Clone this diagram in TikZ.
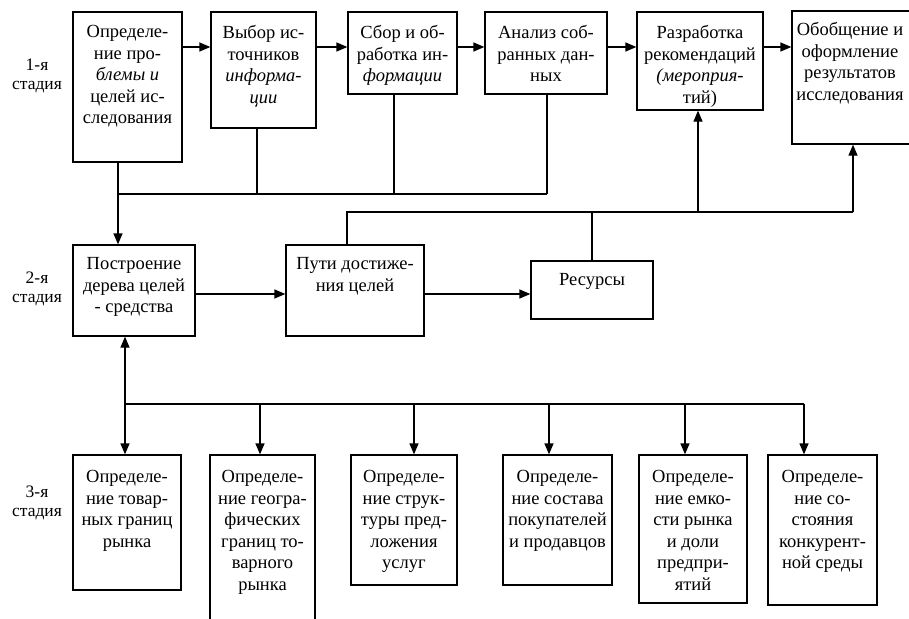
\documentclass[tikz,border=0pt]{standalone}
\usepackage{fontspec}
\setmainfont{Liberation Serif}
\usetikzlibrary{arrows.meta}
\begin{document}
\begin{tikzpicture}[x=1pt,y=-1pt,
  box/.style={draw, line width=1.3pt, inner sep=0pt},
  txt/.style={align=center, inner sep=0pt, font=\fontsize{18.5}{21.5}\selectfont},
  lbl/.style={align=center, inner sep=0pt, font=\fontsize{17.5}{19}\selectfont},
  ln/.style={line width=1.3pt},
  arr/.style={line width=1.3pt, -{Triangle[length=11pt,width=9pt]}}]
\fill[white] (0,0) rectangle (909,618);
\useasboundingbox (0,0) rectangle (909,618);

% stage labels
\node[lbl] (s1) at (37,76) {1-я\\стадия};
\node[lbl] (s2) at (37,289) {2-я\\стадия};
\node[lbl] (s3) at (37,503) {3-я\\стадия};

% top row
\node[box, minimum width=109pt, minimum height=150pt] (T1) at (127.5,87) {};
\node[box, minimum width=105pt, minimum height=116pt] (T2) at (263.5,70) {};
\node[box, minimum width=109pt, minimum height=82pt] (T3) at (402.5,53) {};
\node[box, minimum width=122pt, minimum height=82pt] (T4) at (546,53) {};
\node[box, minimum width=126pt, minimum height=98pt] (T5) at (700,61) {};
\node[box, minimum width=128pt, minimum height=133pt] (T6) at (856,77.5) {};

\node[txt, anchor=north] (T1t) at ([yshift=-14pt]T1.north) {Определе-\\ние про-\\\textit{блемы и}\\целей ис-\\следования};
\node[txt, anchor=north] (T2t) at ([yshift=-14pt]T2.north) {Выбор ис-\\точников\\\textit{информа-}\\\textit{ции}};
\node[txt, anchor=north] (T3t) at ([yshift=-14pt]T3.north) {Сбор и об-\\работка ин-\\\textit{формации}};
\node[txt, anchor=north] (T4t) at ([yshift=-14pt]T4.north) {Анализ соб-\\ранных дан-\\ных};
\node[txt, anchor=north] (T5t) at ([yshift=-14pt]T5.north) {Разработка\\рекомендаций\\\textit{(мероприя-}\\тий)};
\node[txt, anchor=north, xshift=-6pt] (T6t) at ([yshift=-12pt]T6.north) {Обобщение и\\оформление\\результатов\\исследования};

% middle row
\node[box, minimum width=122pt, minimum height=91pt] (M1) at (134,290.5) {};
\node[box, minimum width=138pt, minimum height=91pt] (M2) at (355,290.5) {};
\node[box, minimum width=122pt, minimum height=58pt] (M3) at (592,290) {};
\node[txt, anchor=north] (M1t) at ([yshift=-13pt]M1.north) {Построение\\дерева целей\\- средства};
\node[txt, anchor=north] (M2t) at ([yshift=-13pt]M2.north) {Пути достиже-\\ния целей};
\node[txt, anchor=north] (M3t) at ([yshift=-13pt]M3.north) {Ресурсы};

% bottom row
\node[box, minimum width=108pt, minimum height=135pt] (B1) at (127,522.5) {};
\node[box, minimum width=105pt, minimum height=175pt] (B2) at (262.5,542.5) {};
\node[box, minimum width=106pt, minimum height=130pt] (B3) at (404,520) {};
\node[box, minimum width=109pt, minimum height=130pt] (B4) at (557.5,520) {};
\node[box, minimum width=108pt, minimum height=148pt] (B5) at (693,529) {};
\node[box, minimum width=109pt, minimum height=150pt] (B6) at (822.5,530) {};
\node[txt, anchor=north] (B1t) at ([yshift=-16pt]B1.north) {Определе-\\ние товар-\\ных границ\\рынка};
\node[txt, anchor=north] (B2t) at ([yshift=-16pt]B2.north) {Определе-\\ние геогра-\\фических\\границ то-\\варного\\рынка};
\node[txt, anchor=north] (B3t) at ([yshift=-16pt]B3.north) {Определе-\\ние струк-\\туры пред-\\ложения\\услуг};
\node[txt, anchor=north] (B4t) at ([yshift=-16pt]B4.north) {Определе-\\ние состава\\покупателей\\и продавцов};
\node[txt, anchor=north] (B5t) at ([yshift=-16pt]B5.north) {Определе-\\ние емко-\\сти рынка\\и доли\\предпри-\\ятий};
\node[txt, anchor=north] (B6t) at ([yshift=-16pt]B6.north) {Определе-\\ние со-\\стояния\\конкурент-\\ной среды};

% helper coordinates
\coordinate (ya) at (0,47);
\coordinate (yb) at (0,194);
\coordinate (yc) at (0,212);
\coordinate (yd) at (0,294);
\coordinate (ye) at (0,404);
\coordinate (x1) at (118,0);
\coordinate (x2) at (257,0);
\coordinate (x3) at (394,0);
\coordinate (x4) at (547,0);
\coordinate (x5) at (347,0);
\coordinate (x6) at (592,0);
\coordinate (x7) at (698,0);
\coordinate (x8) at (853,0);
\coordinate (xb1) at (125,0);
\coordinate (xb2) at (260,0);
\coordinate (xb3) at (414,0);
\coordinate (xb4) at (549,0);
\coordinate (xb5) at (685,0);
\coordinate (xb6) at (804,0);

% top arrows
\draw[arr] (T1.east |- ya) -- (T2.west |- ya);
\draw[arr] (T2.east |- ya) -- (T3.west |- ya);
\draw[arr] (T3.east |- ya) -- (T4.west |- ya);
\draw[arr] (T4.east |- ya) -- (T5.west |- ya);
\draw[arr] (T5.east |- ya) -- (T6.west |- ya);

% feedback bus from top boxes
\draw[ln] (T2.south -| x2) -- (x2 |- yb);
\draw[ln] (T3.south -| x3) -- (x3 |- yb);
\draw[ln] (T4.south -| x4) -- (x4 |- yb);
\draw[ln] (x1 |- yb) -- (x4 |- yb);
\draw[arr] (T1.south -| x1) -- (M1.north -| x1);

% middle connections
\draw[arr] (M1.east |- yd) -- (M2.west |- yd);
\draw[arr] (M2.east |- yd) -- (M3.west |- yd);
\draw[ln] (M2.north -| x5) -- (x5 |- yc) -- (x8 |- yc);
\draw[ln] (x6 |- yc) -- (M3.north -| x6);
\draw[arr] (x7 |- yc) -- (T5.south -| x7);
\draw[arr] (x8 |- yc) -- (T6.south -| x8);

% bottom bus
\draw[ln] (xb1 |- ye) -- (xb6 |- ye);
\draw[arr] (xb1 |- ye) -- (M1.south -| xb1);
\draw[arr] (xb1 |- ye) -- (B1.north -| xb1);
\draw[arr] (xb2 |- ye) -- (B2.north -| xb2);
\draw[arr] (xb3 |- ye) -- (B3.north -| xb3);
\draw[arr] (xb4 |- ye) -- (B4.north -| xb4);
\draw[arr] (xb5 |- ye) -- (B5.north -| xb5);
\draw[arr] (xb6 |- ye) -- (B6.north -| xb6);
\end{tikzpicture}
\end{document}
